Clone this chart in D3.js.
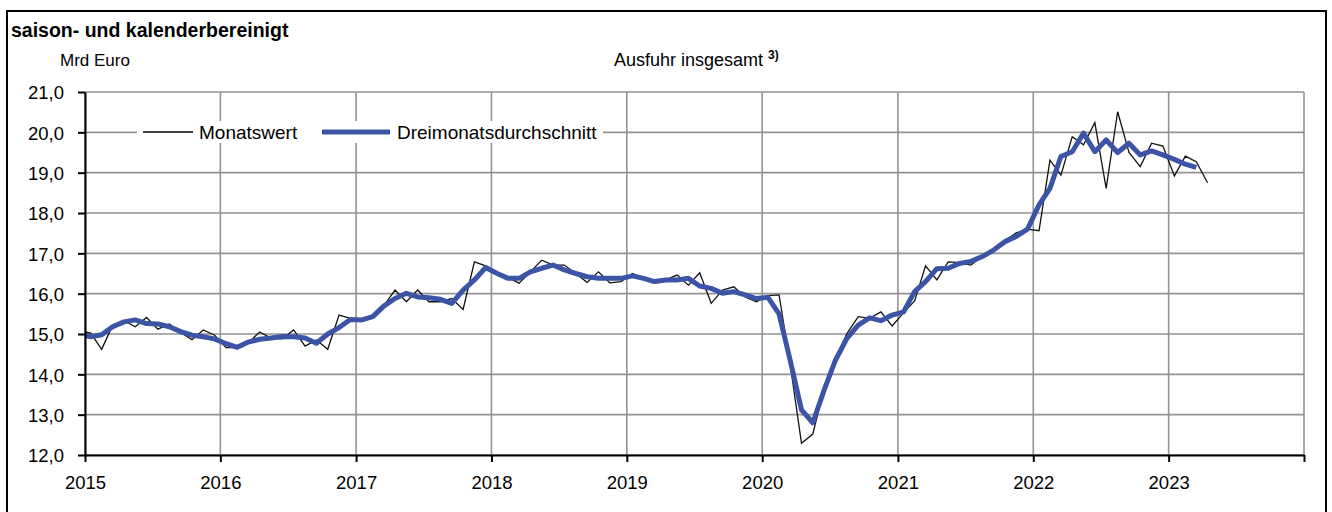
<!DOCTYPE html>
<html>
<head>
  <script src="https://d3js.org/d3.v7.min.js"></script>
  <style>
    body { margin: 0; background: #fff; }
    svg text { font-family: "Liberation Sans", Arial, sans-serif; fill: #000; }
    .grid line { stroke: #939393; stroke-width: 1.6; }
    .axis path, .axis line { stroke: #000; stroke-width: 2; }
    .axis text { font-size: 18.5px; }
  </style>
</head>
<body>
  <svg id="chart"></svg>
  <script>
    // first value is December 2014, then monthly from January 2015
    var startYear = 2014, startMonth = 11;

    var monatswert = [
      15.08,
      15.02, 14.62, 15.22, 15.33, 15.18, 15.41, 15.12, 15.25, 15.04, 14.86, 15.10, 14.97,
      14.66, 14.66, 14.78, 15.05, 14.90, 14.88, 15.10, 14.70, 14.85, 14.62, 15.47, 15.39,
      15.35, 15.42, 15.70, 16.09, 15.80, 16.09, 15.80, 15.80, 15.88, 15.61, 16.79, 16.69,
      16.50, 16.40, 16.26, 16.54, 16.83, 16.71, 16.71, 16.50, 16.28, 16.54, 16.27, 16.30,
      16.50, 16.38, 16.26, 16.34, 16.46, 16.21, 16.52, 15.76, 16.09, 16.17, 15.92, 15.80,
      15.95, 15.97, 14.25, 12.29, 12.52, 13.65, 14.40, 15.01, 15.43, 15.39, 15.55, 15.20,
      15.53, 15.82, 16.69, 16.34, 16.79, 16.77, 16.71, 16.92, 17.08, 17.31, 17.51, 17.60,
      17.56, 19.31, 18.94, 19.89, 19.69, 20.24, 18.61, 20.51, 19.50, 19.15, 19.73, 19.66,
      18.92, 19.41, 19.27, 18.75
    ];

    var dreimonat = [
      15.00,
      14.93, 14.98, 15.18, 15.30, 15.35, 15.26, 15.25, 15.18, 15.06, 14.97, 14.93, 14.88,
      14.76, 14.67, 14.80, 14.87, 14.90, 14.94, 14.93, 14.90, 14.77, 15.00, 15.16, 15.36,
      15.35, 15.43, 15.69, 15.88, 16.01, 15.92, 15.90, 15.86, 15.76, 16.09, 16.34, 16.65,
      16.50, 16.38, 16.38, 16.54, 16.63, 16.71, 16.59, 16.50, 16.42, 16.38, 16.38, 16.38,
      16.44, 16.38, 16.30, 16.34, 16.34, 16.38, 16.19, 16.13, 16.01, 16.05, 15.97, 15.88,
      15.91, 15.50, 14.35, 13.12, 12.80, 13.61, 14.35, 14.89, 15.22, 15.40, 15.33, 15.47,
      15.55, 16.05, 16.30, 16.62, 16.63, 16.75, 16.80, 16.92, 17.08, 17.29, 17.42, 17.60,
      18.20, 18.61, 19.40, 19.52, 19.98, 19.52, 19.81, 19.50, 19.73, 19.44, 19.54, 19.44,
      19.33, 19.21, 19.13
    ];

    var years = d3.range(2015, 2025);
    var yTicks = d3.range(12, 22);

    var W = 1332, H = 512;
    var plotLeft = 85, plotRight = 1304, plotTop = 92, plotBottom = 455;

    var svg = d3.select("#chart").attr("width", W).attr("height", H);

    function monthMid(i) {
      var a = new Date(startYear, startMonth + i, 1);
      var b = new Date(startYear, startMonth + i + 1, 1);
      return new Date((a.getTime() + b.getTime()) / 2);
    }

    var x = d3.scaleTime()
      .domain([new Date(2015, 0, 1), new Date(2024, 0, 1)])
      .range([plotLeft, plotRight]);

    var y = d3.scaleLinear()
      .domain([12, 21])
      .range([plotBottom, plotTop]);

    // outer frame
    svg.append("rect")
      .attr("x", 7).attr("y", 11)
      .attr("width", 1319).attr("height", 540)
      .attr("fill", "none").attr("stroke", "#000").attr("stroke-width", 2);

    svg.append("text")
      .attr("x", 11).attr("y", 37)
      .style("font-size", "19.5px").style("font-weight", "bold")
      .text("saison- und kalenderbereinigt");

    svg.append("text")
      .attr("x", 60).attr("y", 66)
      .style("font-size", "17px")
      .text("Mrd Euro");

    var title = svg.append("text")
      .attr("x", 614).attr("y", 66)
      .style("font-size", "18px")
      .text("Ausfuhr insgesamt ");
    title.append("tspan")
      .attr("dy", -7)
      .style("font-size", "12px").style("font-weight", "bold")
      .text("3)");

    // grid
    var grid = svg.append("g").attr("class", "grid");
    grid.selectAll(".h").data(yTicks).enter().append("line")
      .attr("x1", plotLeft).attr("x2", plotRight)
      .attr("y1", function(d) { return y(d); })
      .attr("y2", function(d) { return y(d); });
    grid.selectAll(".v").data(years).enter().append("line")
      .attr("x1", function(d) { return x(new Date(d, 0, 1)); })
      .attr("x2", function(d) { return x(new Date(d, 0, 1)); })
      .attr("y1", plotTop).attr("y2", plotBottom);

    // legend
    svg.append("rect")
      .attr("x", 137).attr("y", 121).attr("width", 466).attr("height", 22)
      .attr("fill", "#fff");
    svg.append("line")
      .attr("x1", 143).attr("x2", 193).attr("y1", 132).attr("y2", 132)
      .attr("stroke", "#000").attr("stroke-width", 1.3);
    svg.append("text").attr("x", 199).attr("y", 139)
      .style("font-size", "19px").text("Monatswert");
    svg.append("line")
      .attr("x1", 322).attr("x2", 390).attr("y1", 132).attr("y2", 132)
      .attr("stroke", "#3b54a5").attr("stroke-width", 5);
    svg.append("text").attr("x", 397).attr("y", 139)
      .style("font-size", "19px").text("Dreimonatsdurchschnitt");

    // lines
    svg.append("clipPath").attr("id", "plot")
      .append("rect").attr("x", plotLeft).attr("y", 0)
      .attr("width", plotRight - plotLeft).attr("height", H);

    var line = d3.line()
      .x(function(d, i) { return x(monthMid(i)); })
      .y(function(d) { return y(d); });

    svg.append("path")
      .datum(monatswert)
      .attr("clip-path", "url(#plot)")
      .attr("fill", "none").attr("stroke", "#111").attr("stroke-width", 1.3)
      .attr("d", line);

    svg.append("path")
      .datum(dreimonat)
      .attr("clip-path", "url(#plot)")
      .attr("fill", "none").attr("stroke", "#3b54a5").attr("stroke-width", 5)
      .attr("stroke-linejoin", "round")
      .attr("d", line);

    // axes
    var yAxis = svg.append("g")
      .attr("class", "axis")
      .attr("transform", "translate(" + plotLeft + ",0)")
      .call(d3.axisLeft(y).tickValues(yTicks).tickSize(7).tickSizeOuter(0).tickPadding(14)
        .tickFormat(function(d) { return d3.format(".1f")(d).replace(".", ","); }));

    var xAxis = svg.append("g")
      .attr("class", "axis")
      .attr("transform", "translate(0," + plotBottom + ")")
      .call(d3.axisBottom(x)
        .tickValues(years.map(function(d) { return new Date(d, 0, 1); }))
        .tickSize(7).tickSizeOuter(0).tickPadding(14)
        .tickFormat(function(d) { var yr = d.getFullYear(); return yr < 2024 ? yr : ""; }));

    yAxis.selectAll("text").attr("dy", "0.36em");
  </script>
</body>
</html>
